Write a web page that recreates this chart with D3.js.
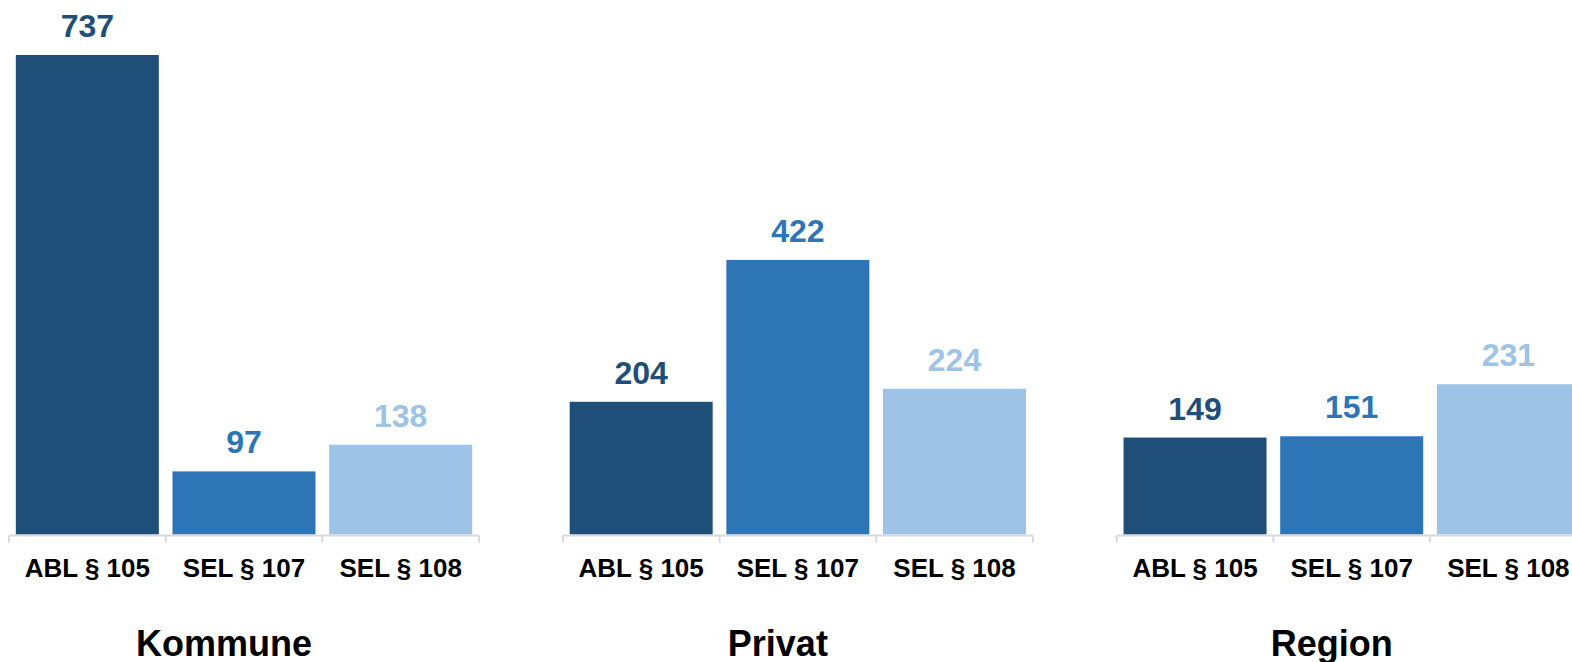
<!DOCTYPE html>
<html><head><meta charset="utf-8">
<script src="https://cdn.jsdelivr.net/npm/d3@7"></script>
<style>
html,body{margin:0;padding:0;background:#fff;overflow:hidden}
text{font-family:"Liberation Sans",Arial,sans-serif;font-weight:bold}
</style></head>
<body><svg id="c" width="1572" height="662"></svg>
<script>
const groups = ["Kommune","Privat","Region"];
const categories = ["ABL § 105","SEL § 107","SEL § 108"];
const kommuneValues = [737,97,138];
const privatValues = [204,422,224];
const regionValues = [149,151,231];
const colors = ["#1f4e79","#2e75b6","#9dc3e6"];

const valuesByGroup = {Kommune:kommuneValues, Privat:privatValues, Region:regionValues};

const svg = d3.select("#c");
const panelStep = 553.85;
const x0 = d3.scaleBand().domain(groups).range([9, 9 + panelStep*3]);
const panelW = 470;
const x1 = d3.scaleBand().domain(categories).range([0, panelW]);
const barW = 143;
const y = d3.scaleLinear().domain([0, 737]).range([534.5, 55]);
const color = d3.scaleOrdinal().domain(categories).range(colors);

groups.forEach(g => {
  const p = svg.append("g").attr("transform", `translate(${x0(g)},0)`);
  const vals = valuesByGroup[g];
  const data = categories.map((c,i)=>({c, v: vals[i]}));
  p.selectAll("rect.bar").data(data).enter().append("rect")
    .attr("x", d => x1(d.c) + (x1.bandwidth()-barW)/2)
    .attr("width", barW)
    .attr("y", d => y(d.v))
    .attr("height", d => y(0) - y(d.v))
    .attr("fill", d => color(d.c));
  p.selectAll("text.val").data(data).enter().append("text")
    .attr("x", d => x1(d.c) + x1.bandwidth()/2)
    .attr("y", d => y(d.v) - 18)
    .attr("text-anchor","middle")
    .attr("font-size", 32)
    .attr("fill", d => color(d.c))
    .text(d => d.v);
  // axis
  const ax = p.append("g").attr("transform", "translate(0,535.5)");
  ax.append("line").attr("x1",0).attr("x2",panelW).attr("y1",0).attr("y2",0)
    .attr("stroke","#d9d9d9").attr("stroke-width",2);
  const tickPos = categories.map(c => x1(c)).concat([panelW]);
  ax.selectAll("line.t").data(tickPos).enter().append("line")
    .attr("x1", d=>d).attr("x2", d=>d).attr("y1",0).attr("y2",7)
    .attr("stroke","#d9d9d9").attr("stroke-width",2);
  ax.selectAll("text").data(categories).enter().append("text")
    .attr("x", d => x1(d) + x1.bandwidth()/2)
    .attr("y", 41.5)
    .attr("text-anchor","middle")
    .attr("font-size", 26)
    .attr("fill","#000")
    .text(d => d);
  p.append("text")
    .attr("x", panelW/2 - 20)
    .attr("y", 656)
    .attr("text-anchor","middle")
    .attr("font-size", 36)
    .attr("fill","#000")
    .text(g);
});
</script></body></html>
